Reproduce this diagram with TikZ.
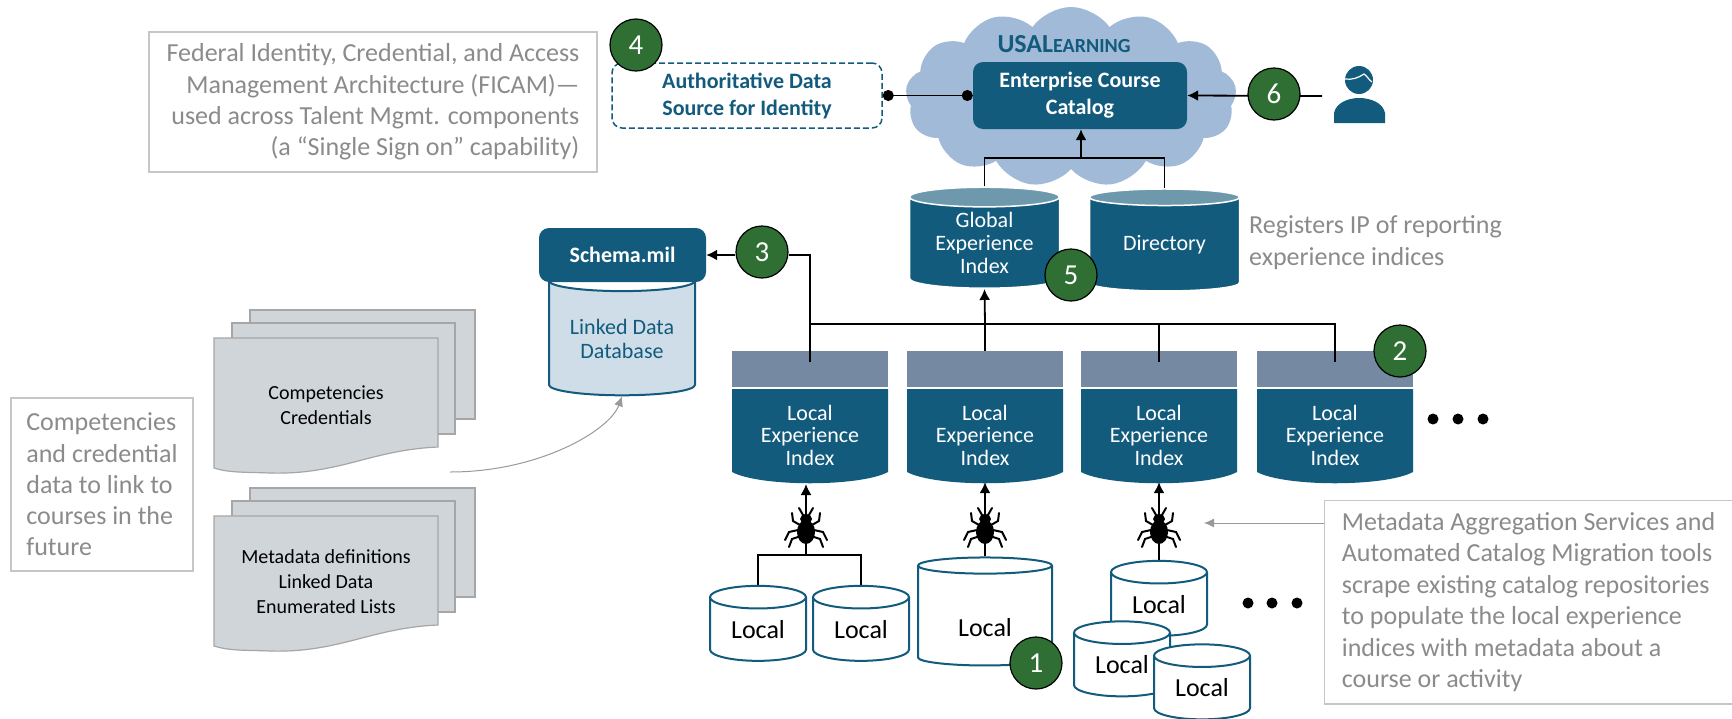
\documentclass[tikz,border=0pt]{standalone}
\usepackage{fontspec}
\setmainfont{Carlito}
\usepackage{tikz}
\usetikzlibrary{positioning, calc, arrows.meta, shapes.geometric, shapes.symbols}
\definecolor{teal}{HTML}{125B7D}
\definecolor{tealtop}{HTML}{6E99AD}
\definecolor{slate}{HTML}{7589A3}
\definecolor{cloudblue}{HTML}{A1BAD7}
\definecolor{palebox}{HTML}{CFDDE9}
\definecolor{sheet}{HTML}{D0D5DA}
\definecolor{notegray}{HTML}{8B8B8B}
\definecolor{badge}{HTML}{2F6F33}
\tikzset{line/.style={-{Latex[length=11pt,width=11pt]}, line width=1.8pt},
wire/.style={line width=1.8pt},
thin line/.style={-{Latex[length=10pt,width=9pt]}, draw=gray!80, line width=1pt},
num/.style={circle, draw=black, line width=1.2pt, fill=badge, text=white, minimum size=52pt, inner sep=0pt, font=\fontsize{29}{30}\selectfont},
note/.style={draw=gray!45, line width=1.5pt, text=notegray, inner sep=0pt, font=\fontsize{26}{31.4}\selectfont},
plain note/.style={text=notegray, inner sep=0pt, align=left, font=\fontsize{26}{32}\selectfont},
block/.style={fill=teal, text=white, rounded corners=10pt, inner sep=0pt, align=center, font=\bfseries\fontsize{22}{27}\selectfont},
cyl/.style={shape=cylinder, shape border rotate=90, inner sep=0pt, cylinder uses custom fill},
index/.style={cyl, aspect=0.2, draw=white, line width=1.5pt, cylinder body fill=teal, cylinder end fill=tealtop, text=white, align=center, minimum width=150pt, font=\fontsize{22}{23}\selectfont},
local/.style={cyl, aspect=0.42, draw=teal, line width=2pt, cylinder body fill=white, cylinder end fill=white, minimum width=96pt, minimum height=75pt, font=\fontsize{26}{28}\selectfont},
sheet text/.style={inner sep=0pt, align=center, font=\fontsize{20}{24.8}\selectfont},
dotmark/.style={circle, fill=black, minimum size=11pt, inner sep=0pt},
bugicon/.pic={
\fill (0,-7) ellipse (6 and 5);
\fill (0,6) ellipse (9 and 12);
\draw[line width=2pt, line cap=round] (-6,-1) -- (-13,-5) -- (-14,-13) (6,-1) -- (13,-5) -- (14,-13)
(-8,4) -- (-17,6) -- (-21,14) (8,4) -- (17,6) -- (21,14)
(-8,11) -- (-14,13) -- (-17,21) (8,11) -- (14,13) -- (17,21)
(-3,-11) -- (-7,-18) (3,-11) -- (7,-18);
},
sheetstack/.pic={
\foreach \dx/\dy/\w/\h in {36/-28/225/109, 18/-15/223/111}
\draw[draw=gray!70, fill=sheet, line width=1.2pt] (214+\dx,338+\dy) rectangle ++(\w,\h);
\draw[draw=gray!70, fill=sheet, line width=1.2pt] (214,338) -- (438,338) -- (438,447) .. controls (370,450) and (340,475) .. (270,473) .. controls (245,472) and (230,473) .. (214,468) -- cycle;
}
}
\begin{document}
\begin{tikzpicture}[x=1pt, y=-1pt]
\useasboundingbox (0,0) rectangle (1732,718);
\fill[white] (0,0) rectangle (1732,718);

\node[shape=cloud, cloud puffs=13, cloud puff arc=110, aspect=2, fill=cloudblue, inner sep=0pt, minimum width=331pt, minimum height=180pt] (cloud) at (1071,97) {};
\node[text=teal, inner sep=0pt, font=\bfseries] (usal) at (1064,44) {\fontsize{26}{28}\selectfont USAL\fontsize{20}{28}\selectfont EARNING};
\node[block, minimum width=214pt, minimum height=67pt] (catalog) at (1080,95.5) {Enterprise Course\\Catalog};

\node[note, align=right, minimum width=448pt, minimum height=140pt] (ficam) at (373,102) {Federal Identity, Credential, and Access\\Management Architecture (FICAM)—\\used across Talent Mgmt. components\\(a “Single Sign on” capability)};
\node[draw=teal, dash pattern=on 6pt off 3pt, line width=1.5pt, rounded corners=10pt, text=teal, inner sep=0pt, minimum width=270pt, minimum height=65pt, align=center, font=\bfseries\fontsize{22}{27}\selectfont] (authority) at (747,95.5) {Authoritative Data\\Source for Identity};

\node[index, minimum height=101pt] (global) at (984.5,243) {Global\\Experience\\Index};
\node[index, minimum height=102pt] (directory) at (1164.5,244.5) {Directory};
\node[plain note, anchor=west] (registers) at (1249,243) {Registers IP of reporting\\experience indices};

\node[cyl, aspect=0.2, draw=teal, line width=2pt, cylinder body fill=palebox, cylinder end fill=white, text=teal, align=center, minimum width=146pt, minimum height=125pt, font=\fontsize{22}{24}\selectfont] (linked) at (622,338.5) {Linked Data\\Database};
\node[block, minimum width=167pt, minimum height=54pt] (schema) at (622.5,255) {Schema.mil};

\foreach \n/\x in {a/810,b/985,c/1159,d/1335}{
\fill[teal] (\x-78,389) -- (\x+78,389) -- (\x+78,472) .. controls (\x+50,487) and (\x-50,487) .. (\x-78,472) -- cycle;
\node[fill=slate, inner sep=0pt, minimum width=156pt, minimum height=36pt] (top\n) at (\x,369) {};
\node[text=white, inner sep=0pt, minimum width=156pt, minimum height=94pt, align=center, font=\fontsize{22}{22.5}\selectfont] (lei\n) at (\x,435) {Local\\Experience\\Index};
}

\node[local] (l1) at (758,629.5) {Local};
\node[local] (l2) at (861,629.5) {Local};
\node[local, aspect=0.3, minimum width=134pt, minimum height=108pt] (l3) at (985,616) {\raisebox{-11pt}[\height][0pt]{Local}};
\node[local] (l4) at (1159,604.5) {Local};
\node[local] (l5) at (1122,665) {Local};
\node[local] (l6) at (1202,688) {Local};

\coordinate (busleft) at (topa.north |- 0,324);
\coordinate (busright) at (topd.north |- 0,324);
\coordinate (join) at (806,555);
\draw[wire] (l1.north) |- (join);
\draw[wire] (l2.north) |- (join);
\draw[line] (join) -- (806,484);
\draw[line] (l3.north) -- (leib.south);
\draw[line] (l4.north) -- (leic.south);
\pic at (806,526) {bugicon};
\pic at (985,526) {bugicon};
\pic at (1159,526) {bugicon};

\draw[wire] ([yshift=-11pt]topa.north) |- (busright) -- ([yshift=-11pt]topd.north);
\draw[wire] (topb.north) -- (topb.north |- busleft);
\draw[wire] ([yshift=-11pt]topc.north) -- (topc.north |- busleft);
\draw[line] (topb.north |- busleft) -- (global.south);
\node[num] (n3) at (762,252) {3};
\draw[wire] (busleft) -- (topa.north |- 0,255) -- ([yshift=-3pt]n3.east);
\draw[line] ([yshift=-3pt]n3.west) -- (schema.east);

\coordinate (gup) at (1081,158);
\draw[wire] (global.north) |- (gup);
\draw[wire] (directory.north) |- (gup);
\draw[line] (gup) -- (catalog.south -| gup);

\draw[wire, {Circle[length=11pt]}-{Circle[length=11pt]}] (authority.east) -- (catalog.west);

\coordinate (usercoord) at (1322,96);
\draw[line] (usercoord) -- (catalog.east);
\fill[teal] (1334,123) -- (1334,113) .. controls (1336,103) and (1348,98) .. (1359,98) .. controls (1371,98) and (1383,103) .. (1385,113) -- (1385,123) -- cycle;
\fill[teal] (1359,80) circle (14);
\draw[white, line width=1.2pt] (1345,79) .. controls (1352,80) and (1358,78) .. (1364,74) .. controls (1367,76) and (1369,80) .. (1372,82);

\node[num] (n1) at (1036,663) {1};
\node[num] (n2) at (1400,351) {2};
\node[num] (n4) at (636,45) {4};
\node[num] (n5) at (1071,275) {5};
\node[num] (n6) at (1274,94) {6};

\foreach \x in {1433,1458,1483}
\node[dotmark] (dot\x) at (\x,419) {};
\foreach \x in {1248,1272,1297}
\node[dotmark] (dot\x) at (\x,603) {};

\node[note, draw=none, align=left, minimum width=407pt, minimum height=202pt] (meta) at (1528.5,602) {Metadata Aggregation Services and\\Automated Catalog Migration tools\\scrape existing catalog repositories\\to populate the local experience\\indices with metadata about a\\course or activity};
\draw[draw=gray!45, line width=1.5pt] (meta.north east) -- (meta.north west) -- (meta.south west) -- (meta.south east);
\draw[thin line] (meta.west |- 0,523) -- (1204,523);

\node[note, align=left, minimum width=182pt, minimum height=173pt, font=\fontsize{26}{31.2}\selectfont] (future) at (102,484.5) {Competencies\\and credential\\data to link to\\courses in the\\future};

\pic at (0,0) {sheetstack};
\pic at (0,178) {sheetstack};
\node[sheet text] (comp) at (326,405.5) {Competencies\\Credentials};
\node[sheet text] (metadefs) at (326,581.5) {Metadata definitions\\Linked Data\\Enumerated Lists};

\coordinate (curvestart) at (450,472);
\draw[thin line] (curvestart) .. controls (540,472) and (610,430) .. (linked.south);
\end{tikzpicture}
\end{document}
